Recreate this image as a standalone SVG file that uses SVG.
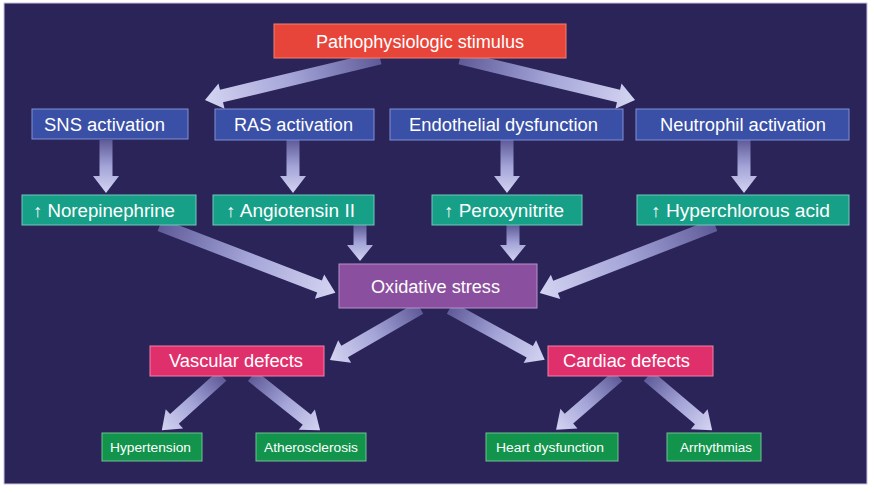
<svg xmlns="http://www.w3.org/2000/svg" width="874" height="493" viewBox="0 0 874 493">
<defs>
<linearGradient id="ag" x1="0" y1="0" x2="1" y2="0">
<stop offset="0" stop-color="#5e5a98"/>
<stop offset="0.5" stop-color="#a4a4d8"/>
<stop offset="1" stop-color="#d4d4f2"/>
</linearGradient>
<style>
text{font-family:"Liberation Sans",Arial,"DejaVu Sans",sans-serif;fill:#ffffff;text-anchor:middle}
.t{font-size:18px}
.s{font-size:12.5px}
.red{fill:#e8453a;stroke:#f08070;stroke-width:1}
.blue{fill:#3a4fa6;stroke:#8090d4;stroke-width:1}
.teal{fill:#17a088;stroke:#70c8b8;stroke-width:1}
.purp{fill:#8a4f9e;stroke:#b890c8;stroke-width:1}
.pink{fill:#e0306c;stroke:#f080a8;stroke-width:1}
.grn{fill:#13944c;stroke:#70c090;stroke-width:1}
.arr{fill:url(#ag)}
</style>
</defs>
<rect x="0" y="0" width="874" height="493" fill="#ffffff"/>
<rect x="4" y="3" width="863" height="481" fill="#2b2458" stroke="#c8c4e0" stroke-width="1"/>

<g id="connectors">
<path class="arr" transform="translate(380,58) rotate(166.5)" d="M0,-6.5 L163,-6.5 L163,-13 L180,0 L163,13 L163,6.5 L0,6.5 Z"/>
<path class="arr" transform="translate(460,58) rotate(13.5)" d="M0,-6.5 L163,-6.5 L163,-13 L180,0 L163,13 L163,6.5 L0,6.5 Z"/>
<path class="arr" transform="translate(106,140) rotate(90)" d="M0,-6.5 L36,-6.5 L36,-13 L53,0 L36,13 L36,6.5 L0,6.5 Z"/>
<path class="arr" transform="translate(293,140) rotate(90)" d="M0,-6.5 L36,-6.5 L36,-13 L53,0 L36,13 L36,6.5 L0,6.5 Z"/>
<path class="arr" transform="translate(507,140) rotate(90)" d="M0,-6.5 L36,-6.5 L36,-13 L53,0 L36,13 L36,6.5 L0,6.5 Z"/>
<path class="arr" transform="translate(744,140) rotate(90)" d="M0,-6.5 L36,-6.5 L36,-13 L53,0 L36,13 L36,6.5 L0,6.5 Z"/>
<path class="arr" transform="translate(360,225) rotate(90)" d="M0,-6.5 L20,-6.5 L20,-13 L36,0 L20,13 L20,6.5 L0,6.5 Z"/>
<path class="arr" transform="translate(513,225) rotate(90)" d="M0,-6.5 L20,-6.5 L20,-13 L36,0 L20,13 L20,6.5 L0,6.5 Z"/>
<path class="arr" transform="translate(160,225) rotate(21.1)" d="M0,-6.5 L171,-6.5 L171,-13 L188,0 L171,13 L171,6.5 L0,6.5 Z"/>
<path class="arr" transform="translate(715,225) rotate(158.8)" d="M0,-6.5 L171,-6.5 L171,-13 L188,0 L171,13 L171,6.5 L0,6.5 Z"/>
<path class="arr" transform="translate(420,308) rotate(150)" d="M0,-6.5 L87,-6.5 L87,-13 L104,0 L87,13 L87,6.5 L0,6.5 Z"/>
<path class="arr" transform="translate(450,308) rotate(28.7)" d="M0,-6.5 L91,-6.5 L91,-13 L108,0 L91,13 L91,6.5 L0,6.5 Z"/>
<path class="arr" transform="translate(222,376) rotate(138)" d="M0,-6.5 L64,-6.5 L64,-13 L81,0 L64,13 L64,6.5 L0,6.5 Z"/>
<path class="arr" transform="translate(252,376) rotate(38.5)" d="M0,-6.5 L70,-6.5 L70,-13 L87,0 L70,13 L70,6.5 L0,6.5 Z"/>
<path class="arr" transform="translate(618,376) rotate(139)" d="M0,-6.5 L65,-6.5 L65,-13 L82,0 L65,13 L65,6.5 L0,6.5 Z"/>
<path class="arr" transform="translate(648,376) rotate(40.2)" d="M0,-6.5 L67,-6.5 L67,-13 L84,0 L67,13 L67,6.5 L0,6.5 Z"/>
</g>

<g id="stimulus"><rect class="red" x="274" y="24" width="292" height="34"/><text class="t" x="420" y="47.5" textLength="208" lengthAdjust="spacingAndGlyphs">Pathophysiologic stimulus</text></g>

<g id="sns"><rect class="blue" x="32" y="109" width="156" height="30"/><text class="t" x="104.5" y="130.5" textLength="121" lengthAdjust="spacingAndGlyphs">SNS activation</text></g>
<g id="ras"><rect class="blue" x="215" y="109" width="159" height="31"/><text class="t" x="293.5" y="131" textLength="119" lengthAdjust="spacingAndGlyphs">RAS activation</text></g>
<g id="endothelial"><rect class="blue" x="390" y="109" width="233" height="31"/><text class="t" x="503.5" y="131" textLength="189" lengthAdjust="spacingAndGlyphs">Endothelial dysfunction</text></g>
<g id="neutrophil"><rect class="blue" x="636" y="109" width="213" height="31"/><text class="t" x="743" y="131" textLength="166" lengthAdjust="spacingAndGlyphs">Neutrophil activation</text></g>

<g id="norepinephrine"><rect class="teal" x="22" y="195" width="174" height="30"/><text class="t" x="104" y="216.5" textLength="142" lengthAdjust="spacingAndGlyphs">↑ Norepinephrine</text></g>
<g id="angiotensin"><rect class="teal" x="213" y="195" width="161" height="30"/><text class="t" x="290.5" y="216.5" textLength="129" lengthAdjust="spacingAndGlyphs">↑  Angiotensin II</text></g>
<g id="peroxynitrite"><rect class="teal" x="432" y="195" width="150" height="30"/><text class="t" x="504" y="216.5" textLength="120" lengthAdjust="spacingAndGlyphs">↑ Peroxynitrite</text></g>
<g id="hyperchlorous"><rect class="teal" x="637" y="195" width="212" height="30"/><text class="t" x="740.5" y="216.5" textLength="179" lengthAdjust="spacingAndGlyphs">↑  Hyperchlorous acid</text></g>

<g id="oxidative"><rect class="purp" x="339" y="264" width="198" height="44"/><text class="t" x="435.5" y="292.5" textLength="129" lengthAdjust="spacingAndGlyphs">Oxidative stress</text></g>

<g id="vascular"><rect class="pink" x="150" y="346" width="174" height="30"/><text class="t" x="236" y="366.5" textLength="134" lengthAdjust="spacingAndGlyphs">Vascular defects</text></g>
<g id="cardiac"><rect class="pink" x="548" y="346" width="165" height="30"/><text class="t" x="626.5" y="366.5" textLength="127" lengthAdjust="spacingAndGlyphs">Cardiac defects</text></g>

<g id="hypertension"><rect class="grn" x="102" y="433" width="100" height="28"/><text class="s" x="150.5" y="452" textLength="81" lengthAdjust="spacingAndGlyphs">Hypertension</text></g>
<g id="atherosclerosis"><rect class="grn" x="256" y="433" width="110" height="28"/><text class="s" x="311" y="452" textLength="94" lengthAdjust="spacingAndGlyphs">Atherosclerosis</text></g>
<g id="heart"><rect class="grn" x="486" y="433" width="132" height="28"/><text class="s" x="550" y="452" textLength="108" lengthAdjust="spacingAndGlyphs">Heart dysfunction</text></g>
<g id="arrhythmias"><rect class="grn" x="667" y="433" width="94" height="28"/><text class="s" x="716" y="452" textLength="72" lengthAdjust="spacingAndGlyphs">Arrhythmias</text></g>
</svg>
